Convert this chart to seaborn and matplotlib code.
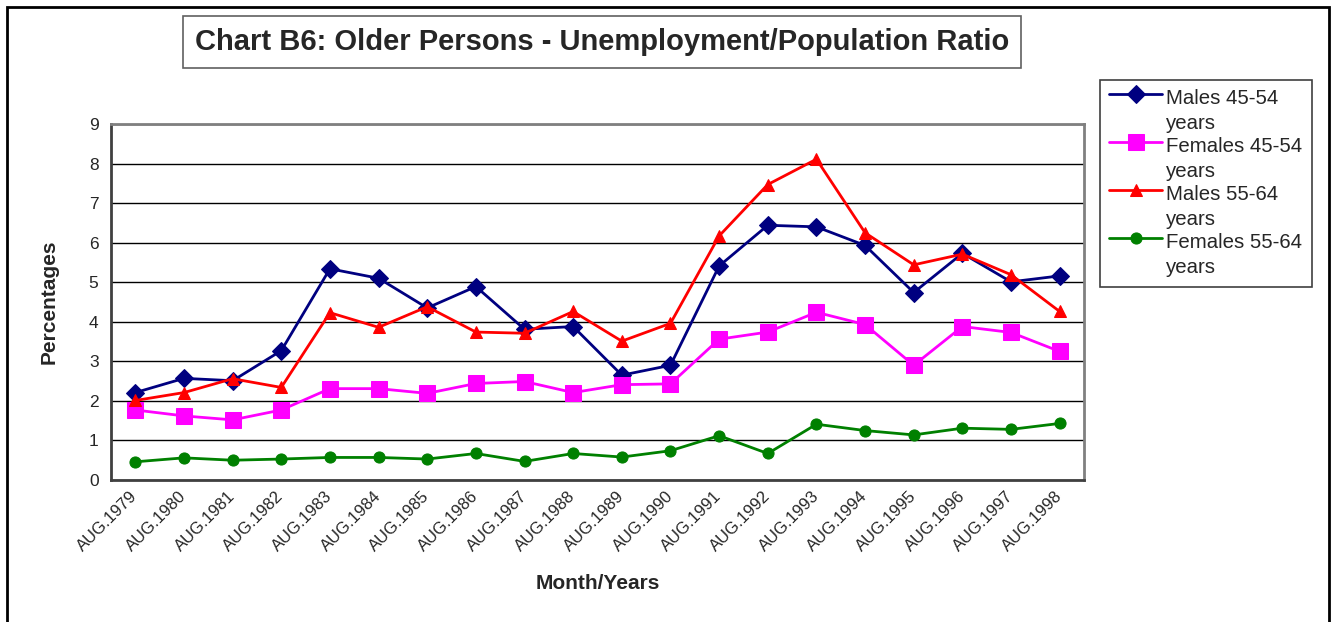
import numpy as np
import pandas as pd
import matplotlib
matplotlib.use("Agg")
import matplotlib.pyplot as plt
import seaborn as sns
from matplotlib.legend_handler import HandlerLine2D
from matplotlib.patches import Rectangle

# values
months = ["AUG.1979", "AUG.1980", "AUG.1981", "AUG.1982", "AUG.1983",
          "AUG.1984", "AUG.1985", "AUG.1986", "AUG.1987", "AUG.1988",
          "AUG.1989", "AUG.1990", "AUG.1991", "AUG.1992", "AUG.1993",
          "AUG.1994", "AUG.1995", "AUG.1996", "AUG.1997", "AUG.1998"]
males_45_54 = [2.21, 2.57, 2.51, 3.27, 5.34, 5.10, 4.35, 4.89, 3.81, 3.88,
               2.65, 2.90, 5.41, 6.44, 6.40, 5.93, 4.74, 5.73, 5.01, 5.16]
females_45_54 = [1.77, 1.62, 1.52, 1.77, 2.31, 2.31, 2.19, 2.44, 2.49, 2.21,
                 2.41, 2.43, 3.56, 3.74, 4.24, 3.93, 2.90, 3.88, 3.73, 3.25]
males_55_64 = [2.01, 2.21, 2.56, 2.34, 4.23, 3.86, 4.38, 3.74, 3.71, 4.26,
               3.51, 3.96, 6.17, 7.47, 8.11, 6.25, 5.44, 5.71, 5.19, 4.26]
females_55_64 = [0.46, 0.56, 0.50, 0.53, 0.57, 0.57, 0.53, 0.67, 0.47, 0.67,
                 0.58, 0.74, 1.12, 0.67, 1.41, 1.25, 1.14, 1.31, 1.28, 1.43]
y_ticks = [0, 1, 2, 3, 4, 5, 6, 7, 8, 9]

series = [
    ("Males 45-54\nyears", males_45_54, "#000080", "D", 9),
    ("Females 45-54\nyears", females_45_54, "#FF00FF", "s", 11),
    ("Males 55-64\nyears", males_55_64, "#FF0000", "^", 8),
    ("Females 55-64\nyears", females_55_64, "#008000", "o", 8),
]


class FirstLineHandler(HandlerLine2D):
    # put the legend handle next to the first line of a two-line label
    def create_artists(self, legend, orig_handle, xdescent, ydescent,
                       width, height, fontsize, trans):
        artists = super().create_artists(legend, orig_handle, xdescent, ydescent,
                                         width, height, fontsize, trans)
        for a in artists:
            a.set_ydata(np.asarray(a.get_ydata(), dtype=float) + fontsize * 0.85)
        return artists


sns.set_theme(style="white")
plt.rcParams["font.family"] = ["Liberation Sans", "DejaVu Sans"]

fig = plt.figure(figsize=(13.33, 6.22), dpi=100)
ax = fig.add_axes([111 / 1333, 1 - 480 / 622, (1084 - 111) / 1333, (480 - 124) / 622])

pos = np.arange(len(months))
for label, vals, color, marker, ms in series:
    df = pd.DataFrame({"pos": pos, "value": vals})
    sns.lineplot(data=df, x="pos", y="value", ax=ax, color=color, marker=marker,
                 markersize=ms, markeredgecolor=color, linewidth=2, label=label)

ax.set_xlim(-0.5, len(months) - 0.5)
ax.set_ylim(0, 9)
ax.set_yticks(y_ticks)
ax.set_yticklabels([str(t) for t in y_ticks], fontsize=12.5)
ax.set_xticks(pos)
ax.set_xticklabels(months, rotation=45, ha="right", va="center",
                   rotation_mode="anchor", fontsize=12)
ax.set_xticks(np.arange(len(months) + 1) - 0.5, minor=True)
ax.tick_params(axis="x", which="major", length=0, pad=10)
ax.tick_params(axis="x", which="minor", length=5, color="#404040", width=1, direction="out")
ax.tick_params(axis="y", length=5, color="#404040", width=1, direction="out", pad=4)
ax.grid(axis="y", color="black", linewidth=1)
ax.set_axisbelow(True)
for side in ["left", "bottom"]:
    ax.spines[side].set_color("#404040")
    ax.spines[side].set_linewidth(2)
for side in ["top", "right"]:
    ax.spines[side].set_color("#808080")
    ax.spines[side].set_linewidth(2)

ax.set_xlabel("Month/Years", fontsize=15, fontweight="bold", labelpad=14)
ax.set_ylabel("Percentages", fontsize=15, fontweight="bold", labelpad=22)

handles, labels = ax.get_legend_handles_labels()
ax.get_legend().remove()
leg = fig.legend(handles, labels, loc="upper left",
                 bbox_to_anchor=(1100 / 1333, 1 - 80 / 622),
                 fontsize=14.7, frameon=True, fancybox=False, framealpha=1,
                 edgecolor="#404040", labelspacing=0.2, handlelength=2.6,
                 handletextpad=0.2, borderpad=0.45, borderaxespad=0,
                 handler_map={h: FirstLineHandler() for h in handles})
for t in leg.get_texts():
    t.set_linespacing(1.4)
leg.get_frame().set_linewidth(1.2)

fig.text(602 / 1333, 1 - 42 / 622,
         "Chart B6: Older Persons - Unemployment/Population Ratio",
         ha="center", va="center", fontsize=21, fontweight="bold",
         bbox=dict(boxstyle="square,pad=0.4", facecolor="white",
                   edgecolor="#606060", linewidth=1.2))

# outer chart border
fig.patches.append(Rectangle((7 / 1333, -0.1), (1329 - 7) / 1333, 1.1 - 7 / 622,
                             transform=fig.transFigure, fill=False,
                             edgecolor="black", linewidth=2))

fig.savefig("out.png", dpi=100)
